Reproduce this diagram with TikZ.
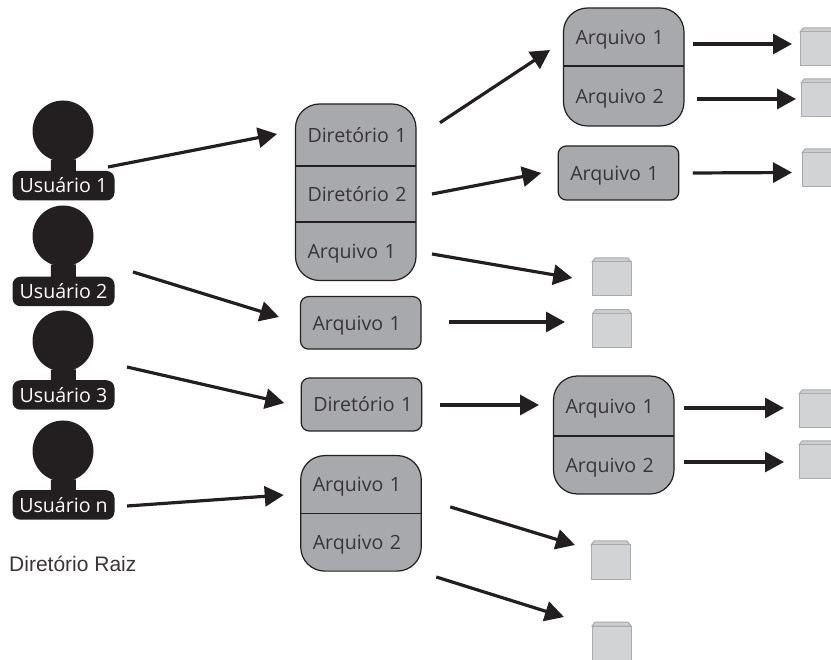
\documentclass[tikz,border=0pt]{standalone}
\usepackage{fontspec}
\usepackage{xcolor}
\usetikzlibrary{arrows.meta,positioning}
\setmainfont{Open Sans}
\newfontfamily\raizfont{Liberation Sans}
\definecolor{escuro}{HTML}{231F20}
\definecolor{cinza}{HTML}{A7A9AC}
\definecolor{claro}{HTML}{D1D3D4}
\definecolor{borda}{HTML}{A9ABAE}
\tikzset{
    texto/.style={font=\fontsize{19.6}{24}\selectfont, text height=14.5, text depth=0, outer sep=0},
    cabeca/.style={circle, fill=escuro, minimum size=61, inner sep=0, outer sep=0},
    usuario/.style={texto, rectangle, rounded corners=8, fill=escuro, text=white, minimum width=102, minimum height=29.5, inner sep=0},
    pescoco/.style={draw=escuro, line width=25, shorten >=-2, shorten <=-2},
    pasta/.style={rectangle, rounded corners=#1, draw=escuro, fill=cinza, line width=1.2, inner sep=0, minimum width=120.5, outer sep=0},
    pasta/.default=24,
    linha/.style={texto, text=escuro!90, rectangle, align=left, text width=120.5, inner sep=0, execute at begin node={\hspace*{12pt}}},
    divisao/.style={draw=escuro, line width=1.1},
    arquivo/.style={rectangle, draw=borda, fill=claro, line width=1, minimum width=39, minimum height=34, inner sep=0, outer sep=0,
        append after command={\pgfextra{\draw[borda, fill=claro!85!borda, line width=1]
            (\tikzlastnode.north west) -- ++(3,-4) -- ([shift={(-3,-4)}]\tikzlastnode.north east) -- (\tikzlastnode.north east) -- cycle;}}},
    seta/.style={draw=escuro, line width=3.2, -{Triangle[length=19,width=20]}}
}
\begin{document}
\begin{tikzpicture}[x=1pt, y=-1pt]
    \clip (0,0) rectangle (831,660);

    % usuarios
    \node[cabeca] (cab1) at (63,131) {};
    \node[usuario] (usr1) at (63.5,185.75) {Usuário 1};
    \node[cabeca] (cab2) at (63,236) {};
    \node[usuario] (usr2) at (63.5,291.5) {Usuário 2};
    \node[cabeca] (cab3) at (63,341) {};
    \node[usuario] (usr3) at (63.5,395) {Usuário 3};
    \node[cabeca] (cabn) at (63,451) {};
    \node[usuario] (usrn) at (63.5,505) {Usuário n};
    \draw[pescoco] (cab1) -- (usr1);
    \draw[pescoco] (cab2) -- (usr2);
    \draw[pescoco] (cab3) -- (usr3);
    \draw[pescoco] (cabn) -- (usrn);
    \node[anchor=base west, inner sep=0, font=\raizfont\fontsize{21}{24}\selectfont, text=escuro!90] (raiz) at (9,572) {Diretório Raiz};

    % pastas
    \node[pasta, minimum height=176.5] (boxA) at (355.75,192.25) {};
    \node[linha, minimum height=62, below=0pt of boxA.north] (dirA1) {Diretório 1};
    \node[linha, minimum height=56, below=0pt of dirA1] (dirA2) {Diretório 2};
    \node[linha, minimum height=58.5, below=0pt of dirA2] (arqA3) {Arquivo 1};
    \draw[divisao] (dirA1.south west) -- (dirA1.south east);
    \draw[divisao] (dirA2.south west) -- (dirA2.south east);

    \node[pasta, minimum height=118] (boxB) at (623.75,67) {};
    \node[linha, minimum height=58, below=0pt of boxB.north] (arqB1) {Arquivo 1};
    \node[linha, minimum height=60, below=0pt of arqB1] (arqB2) {Arquivo 2};
    \draw[divisao] (arqB1.south west) -- (arqB1.south east);

    \node[pasta=8, minimum height=54] (boxC) at (618.5,173) {};
    \node[linha] (arqC) at (boxC) {Arquivo 1};

    \node[pasta=8, minimum height=52.5] (boxD) at (360.75,322.85) {};
    \node[linha] (arqD) at (boxD) {Arquivo 1};

    \node[pasta=8, minimum height=53] (boxE) at (361.5,404.5) {};
    \node[linha] (dirE) at (boxE) {Diretório 1};

    \node[pasta, minimum height=115.5] (boxF) at (361,513.35) {};
    \node[linha, minimum height=58.3, below=0pt of boxF.north] (arqF1) {Arquivo 1};
    \node[linha, minimum height=57.2, below=0pt of arqF1] (arqF2) {Arquivo 2};
    \draw[divisao] (arqF1.south west) -- (arqF1.south east);

    \node[pasta, minimum height=118] (boxG) at (613.75,435) {};
    \node[linha, minimum height=60, below=0pt of boxG.north] (arqG1) {Arquivo 1};
    \node[linha, minimum height=58, below=0pt of arqG1] (arqG2) {Arquivo 2};
    \draw[divisao] (arqG1.south west) -- (arqG1.south east);

    % arquivos
    \node[arquivo] (fis1) at (819.5,49) {};
    \node[arquivo] (fis2) at (820.5,100) {};
    \node[arquivo] (fis3) at (821.5,170) {};
    \node[arquivo] (fis4) at (611.5,279) {};
    \node[arquivo] (fis5) at (612,330.75) {};
    \node[arquivo] (fis6) at (818.5,411) {};
    \node[arquivo] (fis7) at (818.5,462) {};
    \node[arquivo] (fis8) at (610.5,562) {};
    \node[arquivo] (fis9) at (611.5,643) {};

    % setas
    \draw[seta] ([shift={(-6.5,-4)}]usr1.north east) -- ([shift={(-18.5,-1)}]dirA1.west);
    \draw[seta] ([shift={(18.5,-19.5)}]usr2.east) -- ([shift={(-21.5,-5.85)}]boxD.west);
    \draw[seta] ([shift={(12.5,-28)}]usr3.east) -- ([shift={(-17,-1.5)}]boxE.west);
    \draw[seta] ([shift={(12.5,1)}]usrn.east) -- ([shift={(-17,-18.35)}]boxF.west);
    \draw[seta] ([shift={(24,-12.3)}]dirA1.east) -- ([shift={(-13.5,-17)}]boxB.west);
    \draw[seta] ([shift={(16,0)}]dirA2.east) -- ([shift={(-17,0)}]boxC.west);
    \draw[seta] ([shift={(16,2.75)}]arqA3.east) -- ([shift={(-19.7,-1)}]fis4.west);
    \draw[seta] ([shift={(9,7)}]arqB1.east) -- ([shift={(-8,-5)}]fis1.west);
    \draw[seta] ([shift={(13,3)}]arqB2.east) -- ([shift={(-5,-1)}]fis2.west);
    \draw[seta] ([shift={(14,0)}]boxC.east) -- ([shift={(-10,2.5)}]fis3.west);
    \draw[seta] ([shift={(28,-0.85)}]boxD.east) -- ([shift={(-27.5,-8.75)}]fis5.west);
    \draw[seta] ([shift={(18,0.5)}]boxE.east) -- ([shift={(-14.5,-30)}]boxG.west);
    \draw[seta] ([shift={(10,2)}]arqG1.east) -- ([shift={(-15,-3)}]fis6.west);
    \draw[seta] ([shift={(10,-3)}]arqG2.east) -- ([shift={(-15,0)}]fis7.west);
    \draw[seta] ([shift={(29,22.15)}]arqF1.east) -- ([shift={(-16,-17)}]fis8.west);
    \draw[seta] ([shift={(15,34.5)}]arqF2.east) -- ([shift={(-28,-26)}]fis9.west);
\end{tikzpicture}
\end{document}
